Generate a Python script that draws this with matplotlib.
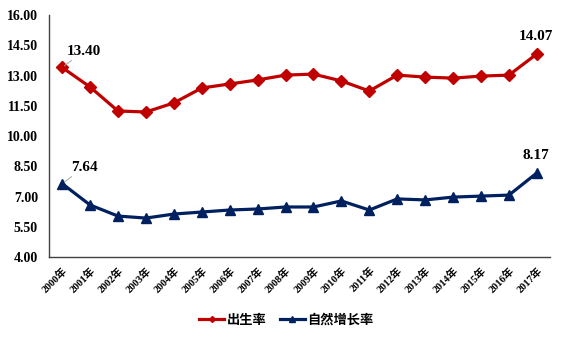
import matplotlib
matplotlib.use("Agg")
import matplotlib.pyplot as plt
from matplotlib.lines import Line2D

years = [f"{y}年" for y in range(2000, 2018)]
birth_rate = [13.40, 12.43, 11.24, 11.19, 11.64, 12.38, 12.58, 12.78, 13.02, 13.07,
              12.73, 12.23, 13.02, 12.92, 12.87, 12.97, 13.02, 14.07]
growth_rate = [7.64, 6.58, 6.03, 5.93, 6.13, 6.23, 6.33, 6.38, 6.48, 6.48,
               6.78, 6.33, 6.88, 6.83, 6.97, 7.02, 7.07, 8.17]
yticks = [4.0, 5.5, 7.0, 8.5, 10.0, 11.5, 13.0, 14.5, 16.0]

RED = "#C00000"
NAVY = "#002060"
cjk = ["Noto Sans CJK SC", "DejaVu Sans"]
serif = ["Liberation Serif", "DejaVu Serif"]
serif_cjk = ["Liberation Serif", "Noto Sans CJK SC", "DejaVu Sans"]

fig = plt.figure(figsize=(5.65, 3.39), dpi=100)
ax = fig.add_axes([49/565, 1-257/339, 501/565, 242/339])

x = list(range(len(years)))
ax.plot(x, birth_rate, color=RED, lw=2.3, marker="D", ms=6, label="出生率")
ax.plot(x, growth_rate, color=NAVY, lw=2.3, marker="^", ms=7.5, label="自然增长率")

ax.set_xlim(-0.47, 17.47)
ax.set_ylim(4, 16)
ax.set_yticks(yticks)
ax.set_yticklabels([f"{v:.2f}" for v in yticks], fontfamily=serif, fontweight="bold", fontsize=10)
ax.set_xticks(x)
ax.set_xticklabels(years, rotation=45, ha="right", va="top", rotation_mode="anchor",
                   fontfamily=serif_cjk, fontweight="bold", fontsize=7.5)
ax.tick_params(axis="y", length=0, pad=8)
ax.tick_params(axis="x", length=0, pad=6)
for s in ["top", "right"]:
    ax.spines[s].set_visible(False)
for s in ["left", "bottom"]:
    ax.spines[s].set_color("#404040")
    ax.spines[s].set_linewidth(1.0)

def lab(i, vals, dx, dy, leader=True):
    v = vals[i]
    props = dict(arrowstyle="-", color="#A6A6A6", lw=0.7, shrinkA=0, shrinkB=2) if leader else None
    ax.annotate(f"{v:.2f}", xy=(i, v), xytext=(dx, dy), textcoords="offset points",
                ha="center", va="bottom", fontfamily=serif, fontweight="bold", fontsize=11,
                arrowprops=props)

lab(0, birth_rate, 16, 7)
lab(0, growth_rate, 16, 7)
lab(17, birth_rate, -1, 8, leader=False)
lab(17, growth_rate, -1, 8, leader=False)

handles = [Line2D([], [], color=RED, lw=2.3, marker="D", ms=3),
           Line2D([], [], color=NAVY, lw=2.3, marker="^", ms=4)]
fig.legend(handles, ["出生率", "自然增长率"], loc="center", bbox_to_anchor=(0.507, 1-320/339),
           ncol=2, frameon=False, prop=dict(family=cjk, weight="bold", size=9.5),
           handlelength=1.9, handletextpad=0.2, columnspacing=1.0)

fig.savefig("out.png", dpi=100)
